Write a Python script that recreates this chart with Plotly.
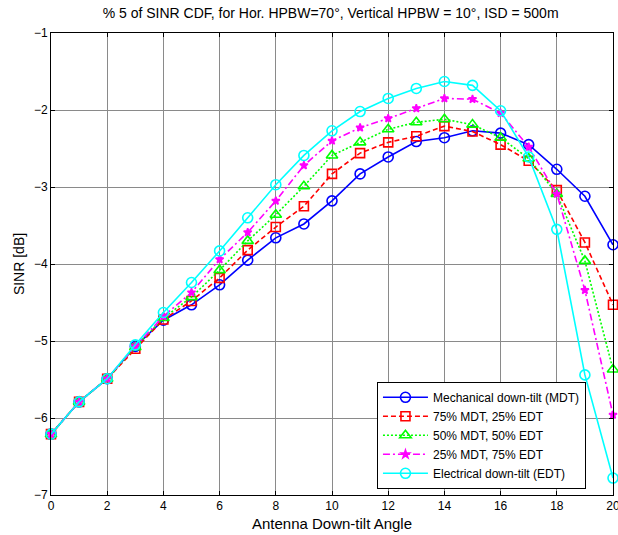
import plotly.graph_objects as go

angles = list(range(0, 21))

mdt = [-6.21, -5.79, -5.49, -5.07, -4.73, -4.53, -4.27, -3.95, -3.66, -3.48, -3.18,
       -2.83, -2.61, -2.41, -2.36, -2.27, -2.30, -2.45, -2.77, -3.12, -3.75]
mdt75 = [-6.21, -5.79, -5.49, -5.10, -4.72, -4.48, -4.18, -3.82, -3.52, -3.25, -2.83,
         -2.56, -2.42, -2.34, -2.21, -2.28, -2.45, -2.66, -3.04, -3.72, -4.53]
mdt50 = [-6.21, -5.79, -5.49, -5.08, -4.70, -4.43, -4.08, -3.70, -3.36, -2.99, -2.59,
         -2.42, -2.25, -2.16, -2.12, -2.19, -2.36, -2.63, -3.09, -3.96, -5.37]
mdt25 = [-6.21, -5.79, -5.49, -5.07, -4.68, -4.37, -3.94, -3.59, -3.18, -2.72, -2.40,
         -2.23, -2.11, -1.98, -1.85, -1.86, -2.04, -2.48, -3.09, -4.34, -5.96]
edt = [-6.21, -5.79, -5.49, -5.05, -4.63, -4.24, -3.83, -3.40, -2.97, -2.59, -2.27,
       -2.02, -1.85, -1.72, -1.63, -1.68, -2.01, -2.61, -3.55, -5.44, -6.78]

names = ["Mechanical down-tilt (MDT)", "75% MDT, 25% EDT", "50% MDT, 50% EDT",
         "25% MDT, 75% EDT", "Electrical down-tilt (EDT)"]
series = [mdt, mdt75, mdt50, mdt25, edt]
colors = ["#0000FF", "#FF0000", "#00FF00", "#FF00FF", "#00FFFF"]
dashes = ["solid", "5px,3px", "2px,2px", "7px,3px,2px,3px", "solid"]
symbols = ["circle-open", "square-open", "triangle-up-open", "star", "circle-open"]
msizes = [10, 9, 10, 6, 10]

x_ticks = list(range(0, 21, 2))
y_ticks = [-7, -6, -5, -4, -3, -2, -1]

fig = go.Figure()
for name, ys, c, d, s, ms in zip(names, series, colors, dashes, symbols, msizes):
    fig.add_trace(go.Scatter(
        x=angles, y=ys, name=name, mode="lines+markers",
        line=dict(color=c, width=1.6, dash=d),
        marker=dict(symbol=s, size=ms, color=c, line=dict(color=c, width=1.6)),
        cliponaxis=False,
    ))

font_family = "Liberation Sans, Arial, sans-serif"
fig.update_layout(
    width=618, height=535,
    margin=dict(l=51, r=5, t=33, b=40, autoexpand=False),
    paper_bgcolor="white", plot_bgcolor="white",
    font=dict(family=font_family, size=12, color="black"),
    title=dict(text="% 5 of SINR CDF, for Hor. HPBW=70°, Vertical HPBW = 10°, ISD = 500m",
               x=0.535, xanchor="center", y=0.975, yanchor="middle",
               font=dict(size=14, family=font_family)),
    showlegend=True,
    legend=dict(x=0.58, y=0.245, xanchor="left", yanchor="top",
                bgcolor="white", bordercolor="black", borderwidth=1,
                font=dict(size=12, family=font_family),
                itemwidth=45, tracegroupgap=0),
    xaxis=dict(range=[0, 20], tickvals=x_ticks, showgrid=True, gridcolor="#8a8a8a",
               gridwidth=1, showline=True, linecolor="black", linewidth=1, mirror="ticks",
               ticks="inside", ticklen=4, tickcolor="black", zeroline=False, automargin=False,
               ticklabeloverflow="allow", tickfont=dict(size=12),
               title=dict(text="Antenna Down-tilt Angle", standoff=6, font=dict(size=15))),
    yaxis=dict(range=[-7, -1], tickvals=y_ticks, showgrid=True, gridcolor="#8a8a8a",
               gridwidth=1, showline=True, linecolor="black", linewidth=1, mirror="ticks",
               ticks="inside", ticklen=4, tickcolor="black", zeroline=False, automargin=False,
               ticklabeloverflow="allow", tickfont=dict(size=12),
               title=dict(text="SINR [dB]", standoff=6, font=dict(size=14))),
)

fig.write_html("out.html", config={"displayModeBar": False},
               post_script="document.body.style.margin='0';document.body.style.padding='0';")
